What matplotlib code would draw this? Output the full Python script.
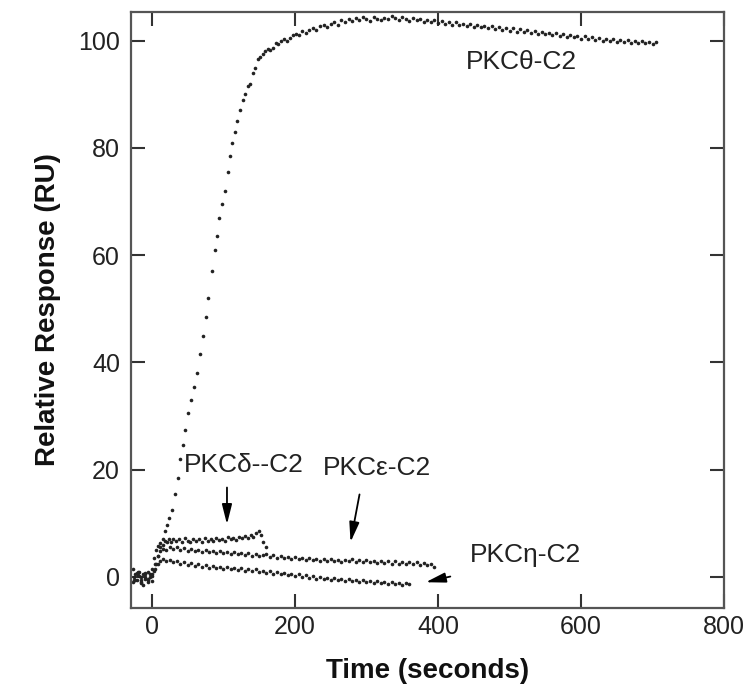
import matplotlib
matplotlib.use("Agg")
import matplotlib.pyplot as plt

plt.rcParams['font.family'] = ['Liberation Sans', 'DejaVu Sans']

# ---------------- data ----------------
theta_t = [-27, -24, -21, -18, -15, -12, -9, -6, -3, 0, 3, 6, 9, 12,
           15, 18, 21, 24, 28, 32, 36, 40, 43, 47, 51, 55, 59, 63, 67, 71, 75, 79,
           84, 88, 91, 94, 98, 102, 106, 109, 112, 116, 119, 123, 127, 130, 134,
           137, 141, 144, 148, 151, 155, 158, 162, 165, 169, 173, 177, 181, 185,
           189, 193, 197, 201, 205, 210, 215, 220, 225, 230, 235, 240, 245, 250,
           255, 260, 265, 270, 275, 280, 285, 290, 295, 300, 305, 310, 315, 320,
           325, 330, 335, 340, 345, 350, 355, 360, 365, 370, 375, 380, 385, 390,
           395, 400, 405, 410, 415, 420, 425, 430, 435, 440, 445, 450, 455, 460,
           465, 470, 475, 480, 485, 490, 495, 500, 505, 510, 515, 520, 525, 530,
           535, 540, 545, 550, 555, 560, 565, 570, 575, 580, 585, 590, 595, 600,
           605, 610, 615, 620, 625, 630, 635, 640, 645, 650, 655, 660, 665, 670,
           675, 680, 685, 690, 695, 700, 705]
theta_y = [1.5, -0.5, 0.8, 0.2, -1.0, 0.5, -0.3, 1.0, 0.0, -0.8, 1.2, 2.5, 4.0, 5.5,
           7.0, 8.5, 9.7, 11.0, 12.5, 15.5, 18.5, 22.0, 24.6, 27.5, 30.5, 33.0, 35.5,
           38.0, 41.5, 45.0, 48.5, 52.0, 57.0, 61.0, 63.5, 67.0, 69.5, 72.0, 75.5,
           78.5, 81.0, 83.0, 85.0, 87.0, 89.0, 90.0, 91.5, 92.0, 94.0, 95.0, 96.5,
           97.0, 97.5, 98.0, 98.5, 98.2, 98.7, 99.5, 99.3, 100.0, 100.3, 100.0,
           100.5, 101.0, 101.2, 101.0, 101.8, 101.5, 102.0, 102.3, 102.0, 102.8,
           103.0, 102.6, 103.2, 103.5, 103.0, 103.8, 103.4, 104.0, 103.6, 104.2,
           103.8, 104.4, 104.0, 103.7, 104.5, 104.1, 103.8, 104.3, 104.0, 104.6,
           104.2, 103.9, 104.4, 104.0, 103.6, 104.2, 103.8, 104.1, 103.5, 103.9,
           103.4, 103.8, 103.3, 103.6, 103.1, 103.5, 103.0, 103.4, 102.9, 103.2,
           102.8, 103.1, 102.6, 103.0, 102.5, 102.8, 102.3, 102.7, 102.2, 102.6,
           102.0, 102.4, 101.9, 102.3, 101.7, 102.1, 101.6, 102.0, 101.5, 101.8,
           101.3, 101.7, 101.2, 101.5, 101.0, 101.4, 100.9, 101.2, 100.7, 101.1,
           100.6, 100.9, 100.4, 100.8, 100.3, 100.6, 100.1, 100.5, 100.0, 100.4,
           99.9, 100.3, 99.8, 100.2, 99.7, 100.1, 99.6, 100.0, 99.5, 99.9, 99.6,
           99.8, 99.3, 99.7]

delta_t = [-27, -24, -21, -18, -15, -12, -9, -6, -3, 0, 3, 6, 9, 12, 15, 18, 21,
           24, 27, 30, 34, 38, 42, 46, 50, 54, 58, 62, 66, 70, 74, 78, 82, 86, 90,
           94, 98, 102, 106, 110, 114, 118, 122, 126, 130, 134, 138, 142, 146,
           150, 153, 156, 160]
delta_y = [-1.0, 0.5, -0.5, 1.0, 0.0, -1.5, 0.8, -0.3, 0.5, 1.5, 3.5, 5.0, 5.8,
           6.3, 6.0, 6.8, 6.5, 7.0, 6.6, 7.1, 6.7, 7.0, 6.5, 7.2, 6.8, 6.6, 7.1,
           6.7, 7.0, 6.6, 7.2, 6.8, 7.0, 6.7, 7.3, 6.9, 7.1, 6.8, 7.4, 7.0, 7.2,
           6.9, 7.5, 7.2, 7.6, 7.3, 7.8, 7.5, 8.2, 8.6, 7.8, 6.5, 5.5]

eps_t = [-25, -20, -15, -10, -5, 0, 4, 8, 12, 16, 20, 25, 30, 35, 40, 45, 50, 55,
         60, 65, 70, 75, 80, 85, 90, 95, 100, 105, 110, 115, 120, 125, 130, 135,
         140, 145, 150, 155, 160, 165, 170, 175, 180, 185, 190, 195, 200, 205,
         210, 215, 220, 225, 230, 235, 240, 245, 250, 255, 260, 265, 270, 275,
         280, 285, 290, 295, 300, 305, 310, 315, 320, 325, 330, 335, 340, 345,
         350, 355, 360, 365, 370, 375, 380, 385, 390, 395]
eps_y = [0.0, 1.0, -0.5, 0.5, -1.0, 0.5, 2.5, 4.0, 4.8, 5.3, 5.0, 5.6, 5.2, 5.5,
         5.0, 5.4, 4.9, 5.3, 4.8, 5.1, 4.7, 5.0, 4.6, 4.9, 4.5, 4.8, 4.4, 4.7, 4.3,
         4.6, 4.2, 4.5, 4.1, 4.4, 4.0, 4.3, 3.9, 4.1, 4.3, 3.8, 4.1, 3.6, 3.9, 3.5,
         3.8, 3.4, 3.7, 3.3, 3.6, 3.2, 3.5, 3.1, 3.4, 3.0, 3.3, 3.0, 3.4, 2.9, 3.2,
         2.8, 3.2, 2.9, 3.3, 2.8, 3.1, 2.7, 3.1, 2.7, 3.0, 2.6, 3.0, 2.6, 2.9, 2.5,
         2.9, 2.5, 2.8, 2.4, 2.8, 2.4, 2.7, 2.3, 2.6, 2.2, 2.5, 1.8]

eta_t = [-25, -20, -15, -10, -5, 0, 4, 8, 12, 16, 20, 25, 30, 35, 40, 45, 50, 55,
         60, 65, 70, 75, 80, 85, 90, 95, 100, 105, 110, 115, 120, 125, 130, 135,
         140, 145, 150, 155, 160, 165, 170, 175, 180, 185, 190, 195, 200, 205,
         210, 215, 220, 225, 230, 235, 240, 245, 250, 255, 260, 265, 270, 275,
         280, 285, 290, 295, 300, 305, 310, 315, 320, 325, 330, 335, 340, 345,
         350, 355, 360]
eta_y = [-0.5, 0.3, -1.2, 0.0, -0.6, 0.2, 1.5, 2.5, 3.0, 3.3, 2.9, 3.2, 2.7, 3.0,
         2.5, 2.8, 2.3, 2.6, 2.1, 2.4, 1.9, 2.2, 1.7, 2.0, 1.6, 1.9, 1.5, 1.8, 1.4,
         1.7, 1.3, 1.6, 1.2, 1.5, 1.1, 1.4, 1.0, 1.2, 0.8, 1.1, 0.6, 0.9, 0.5, 0.8,
         0.3, 0.6, 0.2, 0.5, 0.0, 0.3, -0.1, 0.2, -0.3, 0.0, -0.4, -0.1, -0.5, -0.2,
         -0.6, -0.3, -0.7, -0.4, -0.8, -0.5, -0.9, -0.6, -1.0, -0.7, -1.1, -0.8,
         -1.2, -0.9, -1.3, -1.0, -1.4, -1.1, -1.5, -1.2, -1.4]

labels = ["PKCθ-C2", "PKCδ--C2", "PKCε-C2", "PKCη-C2"]
x_ticks = [0, 200, 400, 600, 800]
y_ticks = [0, 20, 40, 60, 80, 100]

# ---------------- figure ----------------
fig = plt.figure(figsize=(7.45, 6.91), dpi=100)
ax = fig.add_axes([0.176, 0.120, 0.796, 0.863])

for t, y in [(theta_t, theta_y), (delta_t, delta_y), (eps_t, eps_y), (eta_t, eta_y)]:
    ax.plot(t, y, linestyle='none', marker='o', markersize=2.6,
            markerfacecolor='#222222', markeredgecolor='none')

ax.set_xlim(-29, 800)
ax.set_ylim(-5.8, 105.4)
ax.set_xticks(x_ticks)
ax.set_yticks(y_ticks)
ax.tick_params(direction='in', length=10, width=1.5, colors='#333333',
               labelsize=18, labelcolor='#222222', top=True, right=True)
ax.tick_params(axis='x', pad=5)
ax.tick_params(axis='y', pad=8)
for s in ax.spines.values():
    s.set_linewidth(1.6)
    s.set_color('#555555')

ax.set_xlabel("Time (seconds)", fontsize=20, fontweight='bold', labelpad=14,
              color='#111111')
ax.set_ylabel("Relative Response (RU)", fontsize=20, fontweight='bold',
              labelpad=12, color='#111111')

tk = dict(fontsize=19, color='#222222', ha='center', va='center')
ax.text(517, 96, labels[0], **tk)
ax.text(129, 20.9, labels[1], **tk)
ax.text(315, 20.3, labels[2], **tk)
ax.text(523, 4.1, labels[3], **tk)

ap = dict(arrowstyle='-|>,head_length=1.2,head_width=0.3', color='black', lw=1.3)
ax.annotate("", xy=(105, 9.3), xytext=(105, 17.2), arrowprops=ap)
ax.annotate("", xy=(277, 6.0), xytext=(291, 15.9), arrowprops=ap)
ax.annotate("", xy=(379, -1.1), xytext=(421, 0.2), arrowprops=ap)

fig.savefig("out.png", dpi=100)
